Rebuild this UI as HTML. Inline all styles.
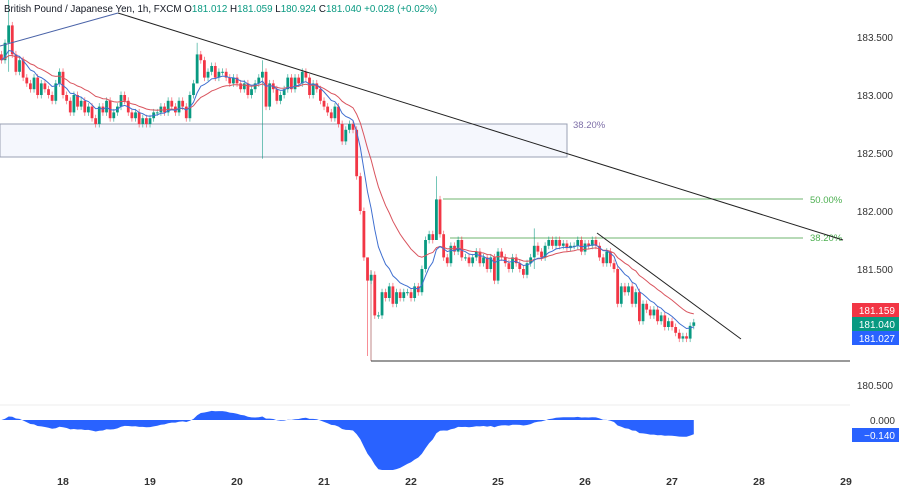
<!DOCTYPE html>
<html><head><meta charset="utf-8"><style>
body{margin:0;background:#fff;font-family:"Liberation Sans",sans-serif}
svg text{font-family:"Liberation Sans",sans-serif}
</style></head><body>
<svg id="c" width="900" height="489" xmlns="http://www.w3.org/2000/svg">
<rect x="0" y="0" width="900" height="489" fill="#fff"/>
<g id="zone">
<rect x="0" y="124" width="567" height="33" fill="#f5f7fd" stroke="#9aa0b4" stroke-width="1"/>
<text x="573" y="128" font-size="9.5" fill="#7e6fa8">38.20%</text>
</g>
<line x1="443" y1="199" x2="803" y2="199" stroke="#6fb46f" stroke-width="1"/>
<text x="810" y="203" font-size="9.5" fill="#4caf50">50.00%</text>
<line x1="450" y1="238" x2="803" y2="238" stroke="#6fb46f" stroke-width="1"/>
<text x="810" y="241" font-size="9.5" fill="#4caf50">38.20%</text>
<line x1="371" y1="270" x2="371" y2="361" stroke="#c08a8a" stroke-width="1"/>
<line x1="371" y1="361" x2="850" y2="361" stroke="#333" stroke-width="1"/>
<line x1="0" y1="405" x2="850" y2="405" stroke="#eee" stroke-width="1"/>
<g id="cand"></g>
<path id="emaS" fill="none" stroke="#d9545e" stroke-width="1"/>
<path id="emaF" fill="none" stroke="#3f6fd0" stroke-width="1"/>
<line x1="0" y1="46" x2="118" y2="13" stroke="#4a63a8" stroke-width="1"/>
<line x1="118" y1="13" x2="843" y2="240" stroke="#222" stroke-width="1"/>
<line x1="597" y1="233" x2="741" y2="339" stroke="#222" stroke-width="1"/>
<path id="osc" fill="#2962ff"/>
<g id="yax" font-size="10" fill="#333"></g>
<g id="xax" font-size="10.5" fill="#333" font-weight="bold"></g>
<text x="895" y="424" font-size="10" fill="#333" text-anchor="end">0.000</text>
<rect x="852" y="428" width="47" height="14" fill="#2962ff"/>
<text x="895" y="439" font-size="10" fill="#fff" text-anchor="end">−0.140</text>
<rect x="852" y="303" width="47" height="14" fill="#f23645"/>
<text x="895" y="314" font-size="10" fill="#fff" text-anchor="end">181.159</text>
<rect x="852" y="317" width="47" height="14" fill="#089981"/>
<text x="895" y="328" font-size="10" fill="#fff" text-anchor="end">181.040</text>
<rect x="852" y="331" width="47" height="14" fill="#2962ff"/>
<text x="895" y="342" font-size="10" fill="#fff" text-anchor="end">181.027</text>
<text x="4" y="12" font-size="9.8" fill="#131722">British Pound / Japanese Yen, 1h, FXCM <tspan>O</tspan><tspan fill="#089981">181.012</tspan> H<tspan fill="#089981">181.059</tspan> L<tspan fill="#089981">180.924</tspan> C<tspan fill="#089981">181.040</tspan> <tspan fill="#089981">+0.028 (+0.02%)</tspan></text>
</svg>
<script>
const closes=[183.3,183.45,183.6,183.35,183.2,183.3,183.15,183.1,
183.05,183.15,183.0,183.1,183.05,183.0,182.95,183.1,
183.2,183.0,182.95,182.85,183.0,182.9,182.95,182.85,
182.9,182.8,182.75,182.9,182.85,182.95,182.8,182.85,
182.9,183.0,182.95,182.85,182.8,182.85,182.75,182.8,
182.75,182.8,182.85,182.85,182.9,182.85,182.95,182.9,
182.85,182.95,182.9,182.8,183.0,183.1,183.35,183.3,
183.15,183.2,183.25,183.15,183.2,183.2,183.15,183.1,
183.15,183.1,183.05,183.1,183.0,183.05,183.1,183.15,
183.2,182.9,183.1,183.05,182.95,183.0,183.05,183.15,
183.05,183.15,183.1,183.2,183.15,183.0,183.1,183.05,
182.95,182.9,182.85,182.8,182.9,182.75,182.6,182.7,
182.75,182.7,182.3,182.0,181.6,181.4,181.45,181.1,
181.1,181.3,181.25,181.35,181.2,181.3,181.25,181.3,
181.3,181.25,181.35,181.3,181.5,181.75,181.8,181.75,
182.1,181.8,181.6,181.55,181.7,181.65,181.75,181.6,
181.6,181.55,181.6,181.65,181.55,181.6,181.5,181.6,
181.4,181.65,181.6,181.55,181.5,181.6,181.55,181.5,
181.45,181.55,181.6,181.7,181.65,181.6,181.7,181.75,
181.7,181.75,181.7,181.72,181.68,181.7,181.7,181.75,
181.65,181.72,181.7,181.75,181.7,181.6,181.55,181.65,
181.55,181.5,181.2,181.35,181.3,181.35,181.2,181.3,
181.05,181.2,181.15,181.1,181.15,181.05,181.1,181.0,
181.05,181.0,180.95,180.9,180.92,180.9,181.01,181.04];
const spikeIdx=[2,54,72,101,120,147];
const spikeHigh=[183.85,183.45,183.3,181.5,182.3,181.85];
const spikeLow=[183.2,183.1,182.45,180.75,181.75,181.5];
const priceTicks=[183.5,183.0,182.5,182.0,181.5,180.5];
const dayLabels=["18","19","20","21","22","25","26","27","28","29"];
const NS="http://www.w3.org/2000/svg";
const Y=p=>37+(183.5-p)*116;
const X=i=>1.4+i*3.625;
const g=document.getElementById('cand');
let prev=closes[0]+0.05;
closes.forEach((c,i)=>{
  const o=prev;prev=c;
  const up=c>=o;const col=up?'#089981':'#f23645';
  let hi=Math.max(o,c)+0.03,lo=Math.min(o,c)-0.03;
  const k=spikeIdx.indexOf(i);if(k>=0){hi=spikeHigh[k];lo=spikeLow[k];}
  const w=document.createElementNS(NS,'line');
  w.setAttribute('x1',X(i));w.setAttribute('x2',X(i));w.setAttribute('y1',Y(hi));w.setAttribute('y2',Y(lo));
  w.setAttribute('stroke',col);w.setAttribute('stroke-width','0.8');w.setAttribute('opacity','0.7');
  
  
  g.appendChild(w);
  const r=document.createElementNS(NS,'rect');
  const t=Y(Math.max(o,c));const h=Math.max(1,Y(Math.min(o,c))-t);
  r.setAttribute('x',X(i)-1.4);r.setAttribute('y',t);r.setAttribute('width',2.8);r.setAttribute('height',h);r.setAttribute('fill',col);
  
  
  g.appendChild(r);
});
function ema(n){const a=2/(n+1);let e=closes[0];return closes.map(c=>e=e+a*(c-e));}
const ef=ema(9),es=ema(21);
const pth=a=>a.map((v,i)=>(i?'L':'M')+X(i).toFixed(1)+' '+Y(v).toFixed(1)).join('');
document.getElementById('emaF').setAttribute('d',pth(ef));
document.getElementById('emaS').setAttribute('d',pth(es));
const e12=ema(12),e26=ema(26);
const osc=e12.map((v,i)=>v-e26[i]);
const OY=v=>Math.max(405,Math.min(470,420-v*107));
let d='M'+X(0)+' 420';osc.forEach((v,i)=>d+='L'+X(i).toFixed(1)+' '+OY(v).toFixed(1));d+='L'+X(closes.length-1)+' 420Z';
document.getElementById('osc').setAttribute('d',d);
const ya=document.getElementById('yax');
priceTicks.forEach(p=>{const t=document.createElementNS(NS,'text');t.setAttribute('x',893);t.setAttribute('y',Y(p)+4);t.setAttribute('text-anchor','end');t.textContent=p.toFixed(3);


ya.appendChild(t);});
const xa=document.getElementById('xax');
dayLabels.forEach((s,i)=>{const t=document.createElementNS(NS,'text');t.setAttribute('x',63+i*87);t.setAttribute('y',485);t.setAttribute('text-anchor','middle');t.textContent=s;


xa.appendChild(t);});
</script>
</body></html>
